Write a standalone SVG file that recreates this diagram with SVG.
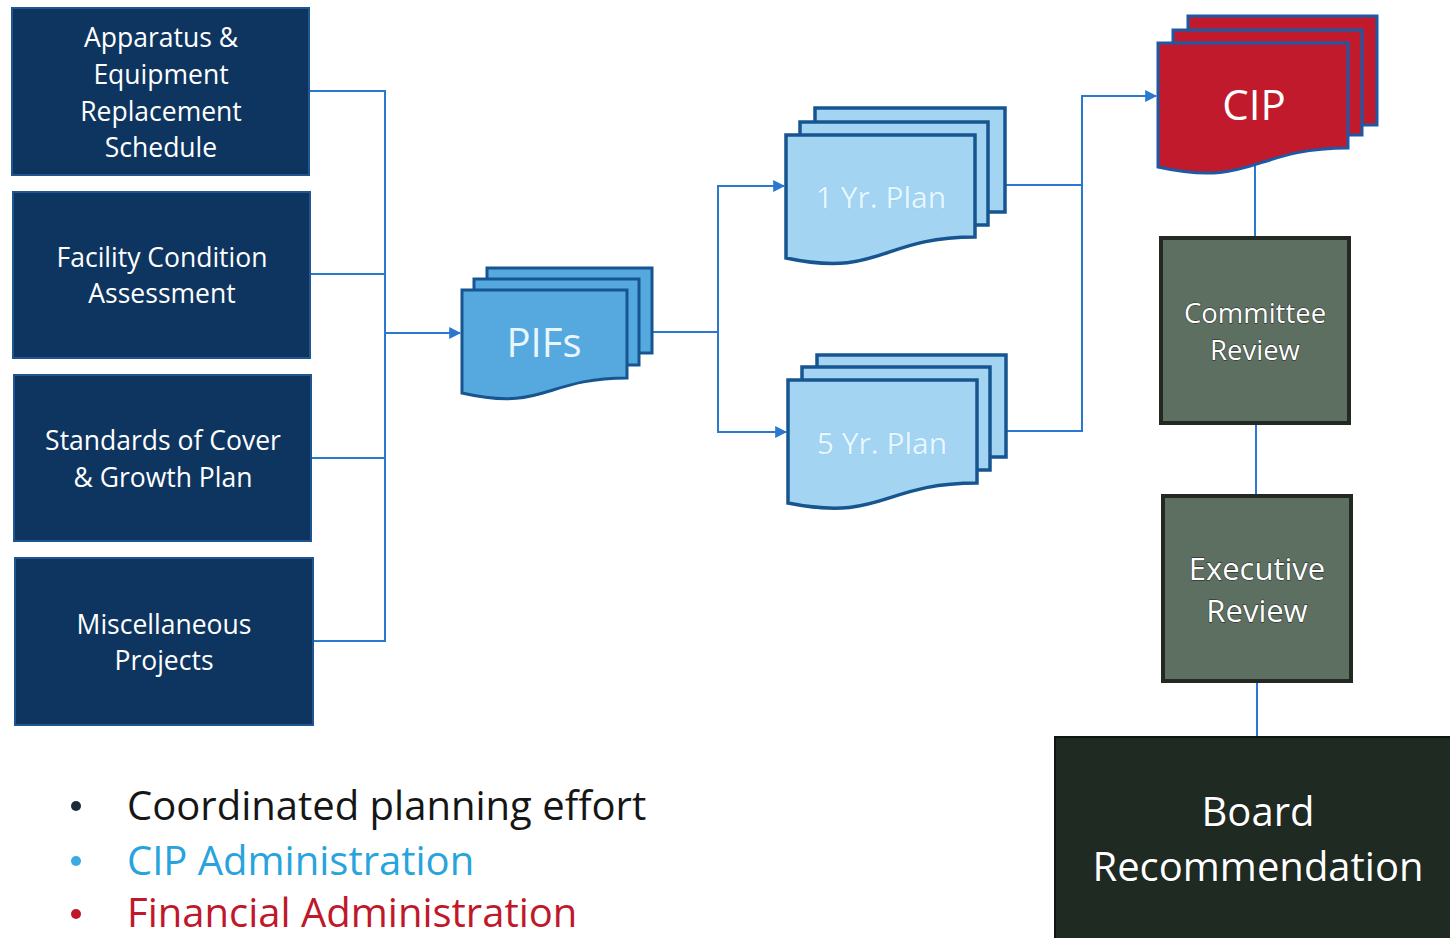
<svg xmlns="http://www.w3.org/2000/svg" width="1450" height="938" viewBox="0 0 1450 938">
<defs>
<marker id="arr" viewBox="0 0 10 10" refX="9" refY="5" markerWidth="6" markerHeight="6" markerUnits="strokeWidth" orient="auto"><path d="M0,0 L10,5 L0,10 Z" fill="#2a78d0"/></marker>
<style>
.src{fill:#0e355f;stroke:#1f5591;stroke-width:2}
.srct{font-family:"Open Sans",sans-serif;font-size:26.5px;fill:#ffffff;text-anchor:middle}
.con{fill:none;stroke:#2a78d0;stroke-width:2}
.pif{fill:#55a9de;stroke:#175591;stroke-width:3}
.plan{fill:#a3d5f3;stroke:#175591;stroke-width:3.5}
.cip{fill:#c01a2c;stroke:#1d5aa6;stroke-width:3}
.rev{fill:#5c6f60;stroke:#222822;stroke-width:4}
.revt{font-family:"Open Sans",sans-serif;fill:#ffffff;stroke:#1a1a1a;stroke-width:0.8;paint-order:stroke;text-anchor:middle}
.plant{font-family:"Open Sans",sans-serif;font-size:30px;fill:#e8f6ff;stroke:#7fc6ee;stroke-width:0.6;paint-order:stroke;text-anchor:middle}
.bul{font-family:"Open Sans",sans-serif;font-size:40px}
</style>
</defs>
<rect width="1450" height="938" fill="#ffffff"/>

<g id="connectors">
<polyline class="con" points="309,91 385,91 385,641 313,641"/>
<line class="con" x1="311" y1="274" x2="385" y2="274"/>
<line class="con" x1="312" y1="458" x2="385" y2="458"/>
<line class="con" x1="385" y1="333" x2="460" y2="333" marker-end="url(#arr)"/>
<line class="con" x1="652" y1="332" x2="718" y2="332"/>
<polyline class="con" points="784,186 718,186 718,432 786,432"/>
<line class="con" x1="718" y1="186" x2="784" y2="186" marker-end="url(#arr)"/>
<line class="con" x1="718" y1="432" x2="786" y2="432" marker-end="url(#arr)"/>
<line class="con" x1="1005" y1="185" x2="1082" y2="185"/>
<polyline class="con" points="1006,431 1082,431 1082,96 1156,96" marker-end="url(#arr)"/>
<line class="con" x1="1255" y1="160" x2="1255" y2="238"/>
<line class="con" x1="1256" y1="423" x2="1256" y2="496"/>
<line class="con" x1="1257" y1="681" x2="1257" y2="738"/>
</g>

<g id="apparatus">
<rect class="src" x="12" y="8" width="297" height="167"/>
<text class="srct" x="161" y="47">Apparatus &amp;</text>
<text class="srct" x="161" y="84">Equipment</text>
<text class="srct" x="161" y="121">Replacement</text>
<text class="srct" x="161" y="157">Schedule</text>
</g>
<g id="facility">
<rect class="src" x="13" y="192" width="297" height="166"/>
<text class="srct" x="162" y="267">Facility Condition</text>
<text class="srct" x="162" y="303">Assessment</text>
</g>
<g id="standards">
<rect class="src" x="14" y="375" width="297" height="166"/>
<text class="srct" x="163" y="450">Standards of Cover</text>
<text class="srct" x="163" y="487">&amp; Growth Plan</text>
</g>
<g id="misc">
<rect class="src" x="15" y="558" width="298" height="167"/>
<text class="srct" x="164" y="634">Miscellaneous</text>
<text class="srct" x="164" y="670">Projects</text>
</g>

<g id="pifs">
<rect class="pif" x="487" y="268" width="165" height="85"/>
<rect class="pif" x="474" y="279" width="165" height="86"/>
<path class="pif" d="M462,290 H627 V378 C544.5,378 544.5,412 462,393 Z"/>
<text x="544" y="357" font-family="'Open Sans',sans-serif" font-size="40" fill="#eaf6ff" text-anchor="middle">PIFs</text>
</g>

<g id="plan1">
<rect class="plan" x="815" y="108" width="190" height="104"/>
<rect class="plan" x="800" y="122" width="188" height="103"/>
<path class="plan" d="M786,135 H975 V237 C880.5,237 880.5,278 786,258 Z"/>
<text class="plant" x="881" y="208">1 Yr. Plan</text>
</g>
<g id="plan5">
<rect class="plan" x="817" y="355" width="189" height="102"/>
<rect class="plan" x="802" y="367" width="188" height="103"/>
<path class="plan" d="M788,380 H977 V483 C882.5,483 882.5,522 788,503 Z"/>
<text class="plant" x="882" y="454">5 Yr. Plan</text>
</g>

<g id="cip">
<rect class="cip" x="1188" y="16" width="189" height="109"/>
<rect class="cip" x="1173" y="30" width="189" height="105"/>
<path class="cip" d="M1158,43 H1348 V148 C1253,148 1253,188 1158,167 Z"/>
<text x="1254" y="120" font-family="'Open Sans',sans-serif" font-size="42" fill="#ffffff" text-anchor="middle">CIP</text>
</g>

<g id="committee">
<rect class="rev" x="1161" y="238" width="188" height="185"/>
<text class="revt" x="1255" y="323" font-size="27.5">Committee</text>
<text class="revt" x="1255" y="360" font-size="27.5">Review</text>
</g>
<g id="executive">
<rect class="rev" x="1163" y="496" width="188" height="185"/>
<text class="revt" x="1257" y="580" font-size="31">Executive</text>
<text class="revt" x="1257" y="622" font-size="31">Review</text>
</g>
<g id="board">
<rect x="1055" y="737" width="400" height="205" fill="#1f2a22" stroke="#101510" stroke-width="2"/>
<text class="revt" x="1258" y="826" font-size="40">Board</text>
<text class="revt" x="1258" y="881" font-size="40">Recommendation</text>
</g>

<g id="bullets">
<circle cx="76" cy="806" r="5" fill="#1a2a3a"/>
<text class="bul" x="127" y="820" fill="#161616">Coordinated planning effort</text>
<circle cx="76" cy="861" r="5" fill="#3aaae0"/>
<text class="bul" x="127" y="875" fill="#27a3dd">CIP Administration</text>
<circle cx="76" cy="914" r="5" fill="#c0182b"/>
<text class="bul" x="127" y="927" fill="#c0182b">Financial Administration</text>
</g>
</svg>
